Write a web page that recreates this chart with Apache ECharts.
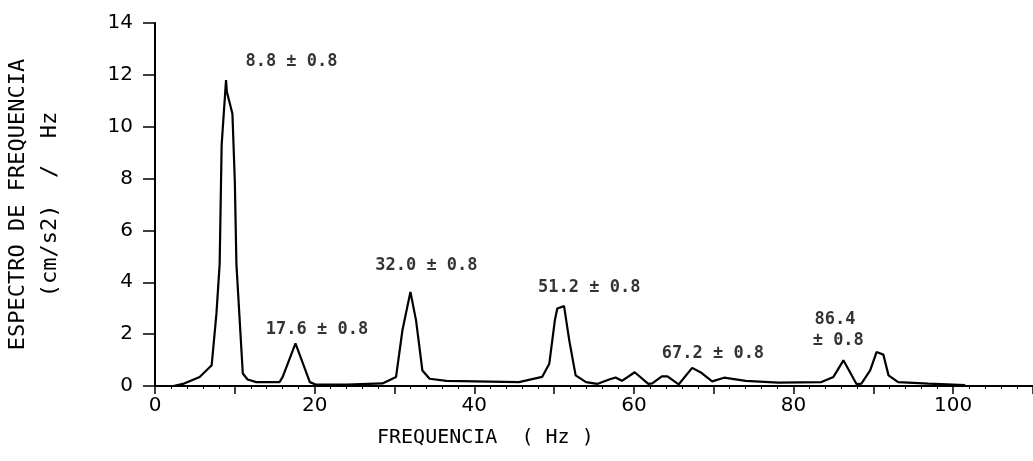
<!DOCTYPE html>
<html>
<head>
<meta charset="utf-8">
<script src="https://cdn.jsdelivr.net/npm/echarts@6/dist/echarts.min.js"></script>
<style>html,body{margin:0;padding:0;background:#fff;}#c{width:1033px;height:461px;}</style>
</head>
<body>
<div id="c"></div>
<script>
// Spectrum curve: frequency (Hz) and amplitude ((cm/s2)/Hz)
var freq = [2.3,3.5,5.6,7.1,7.7,8.1,8.35,8.9,9.0,9.7,10.0,10.2,11.0,11.6,12.7,15.6,16.0,17.6,19.4,20.2,24.0,28.5,30.2,31.0,32.0,32.7,33.5,34.4,36.5,45.6,48.5,49.4,50.1,50.4,51.25,51.9,52.7,54.0,55.4,56.9,57.7,58.5,60.1,61.8,62.3,63.5,64.2,65.6,67.3,68.5,69.8,71.3,74.0,78.1,83.5,85.0,86.25,87.9,88.5,89.6,90.4,91.25,91.9,93.1,96.9,101.5];
var amp  = [0,0.08,0.35,0.8,2.8,4.7,9.3,11.8,11.35,10.5,7.9,4.7,0.48,0.25,0.15,0.15,0.35,1.64,0.15,0.05,0.05,0.1,0.35,2.15,3.63,2.54,0.6,0.28,0.2,0.15,0.35,0.86,2.54,2.99,3.08,1.76,0.41,0.15,0.08,0.25,0.33,0.2,0.53,0.08,0.1,0.37,0.37,0.06,0.7,0.5,0.18,0.32,0.2,0.13,0.15,0.35,0.99,0.07,0.09,0.6,1.31,1.21,0.41,0.15,0.09,0.03];

// Peak annotations (data coordinates of the label centre)
var noteX    = [17.1, 20.3, 34.0, 54.4, 69.9, 85.2, 85.6];
var noteY    = [12.5, 2.19, 4.66, 3.81, 1.26, 2.58, 1.76];
var noteText = ['8.8 \u00b1 0.8', '17.6 \u00b1 0.8', '32.0 \u00b1 0.8', '51.2 \u00b1 0.8', '67.2 \u00b1 0.8', '86.4', '\u00b1 0.8'];

var xTickLabels = ['0', '20', '40', '60', '80', '100'];

var curve = freq.map(function (f, i) { return [f, amp[i]]; });
var notes = noteX.map(function (x, i) { return { value: [x, noteY[i]], name: noteText[i] }; });

var chart = echarts.init(document.getElementById('c'), null, { renderer: 'canvas' });
chart.setOption({
  backgroundColor: '#fff',
  animation: false,
  grid: { left: 155, right: 0, top: 23, bottom: 75, outerBoundsMode: 'none' },
  xAxis: {
    type: 'value', min: 0, max: 110, interval: 10,
    axisLine: { lineStyle: { color: '#000', width: 2 } },
    axisTick: { length: 8, lineStyle: { color: '#000', width: 1.5 } },
    minorTick: { show: true, splitNumber: 5, length: 3, lineStyle: { color: '#000', width: 1 } },
    splitLine: { show: false },
    axisLabel: {
      color: '#000', fontFamily: 'DejaVu Sans', fontSize: 20, margin: 10,
      formatter: function (v) { var s = String(v); return xTickLabels.indexOf(s) >= 0 ? s : ''; }
    }
  },
  yAxis: {
    type: 'value', min: 0, max: 14, interval: 2,
    name: 'ESPECTRO DE FREQUENCIA\n(cm/s2)  /  Hz',
    nameLocation: 'middle', nameRotate: 90, nameGap: 89,
    nameTextStyle: { color: '#000', fontFamily: 'DejaVu Sans Mono', fontSize: 22, lineHeight: 32 },
    axisLine: { show: true, lineStyle: { color: '#000', width: 2 } },
    axisTick: { show: true, length: 12, lineStyle: { color: '#000', width: 1.5 } },
    splitLine: { show: false },
    axisLabel: { color: '#000', fontFamily: 'DejaVu Sans', fontSize: 20, margin: 22 }
  },
  graphic: [{
    type: 'text', left: 377, top: 428,
    style: { text: 'FREQUENCIA  ( Hz )', fill: '#000', font: '20px "DejaVu Sans Mono"' }
  }],
  series: [{
    type: 'line', data: curve, showSymbol: false, symbol: 'none',
    lineStyle: { color: '#000', width: 2.2 }, silent: true
  }, {
    type: 'scatter', data: notes, symbolSize: 0, silent: true,
    itemStyle: { color: '#000' },
    label: {
      show: true, position: 'inside', formatter: '{b}', color: '#000',
      textBorderWidth: 0,
      fontFamily: 'DejaVu Sans Mono', fontWeight: 'bold', fontSize: 17
    }
  }]
});
</script>
</body>
</html>
